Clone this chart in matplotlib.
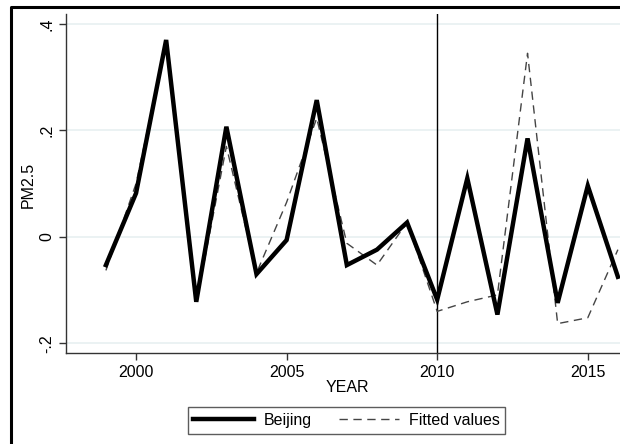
import matplotlib.pyplot as plt
from matplotlib.lines import Line2D

plt.rcParams['font.family'] = ['Liberation Sans', 'DejaVu Sans']

years = list(range(1999, 2017))
beijing = [-0.053, 0.082, 0.370, -0.122, 0.207, -0.070, -0.006, 0.257, -0.053,
           -0.024, 0.027, -0.118, 0.110, -0.146, 0.185, -0.124, 0.096, -0.075]
fitted = [-0.063, 0.100, 0.365, -0.125, 0.170, -0.068, 0.065, 0.223, -0.012,
          -0.053, 0.027, -0.140, -0.122, -0.109, 0.345, -0.163, -0.152, -0.024]
yticks = [-0.2, 0, 0.2, 0.4]
ylabels = ['-.2', '0', '.2', '.4']
xticks = [2000, 2005, 2010, 2015]

W, H = 620, 444
fig = plt.figure(figsize=(W / 100, H / 100), dpi=100)
ax = fig.add_axes([66 / W, (H - 353) / H, (W - 66) / W, (353 - 14) / H])

for y in yticks:
    ax.axhline(y, color='#e8f0f1', lw=1.2, zorder=0)
ax.axvline(2010, color='black', lw=1.0, zorder=1)

ax.plot(years, fitted, color='#444444', lw=1.0, dashes=(6, 4), zorder=2)
ax.plot(years, beijing, color='black', lw=3.2, zorder=3, solid_joinstyle='miter')

ax.set_xlim(1997.675, 2016.07)
ax.set_ylim(-0.2182, 0.4188)
ax.set_xticks(xticks)
ax.set_yticks(yticks)
ax.set_yticklabels(ylabels, rotation=90, va='center')
ax.tick_params(labelsize=11.5, length=5, width=1, colors='#333333', labelcolor='black')
for s in ['top', 'right']:
    ax.spines[s].set_visible(False)
for s in ['left', 'bottom']:
    ax.spines[s].set_color('#333333')
    ax.spines[s].set_linewidth(1)
ax.set_facecolor('white')

fig.text(28 / W, 1 - 185 / H, 'PM2.5', rotation=90, ha='center', va='center', fontsize=11.5)
fig.text(347 / W, 1 - 388 / H, 'YEAR', ha='center', va='center', fontsize=11.5)

# outer frame (left and top edges show, rest is cropped)
fig.add_artist(Line2D([11 / W, 11 / W, 1.0], [0, 1 - 7 / H, 1 - 7 / H],
                      transform=fig.transFigure, color='black', lw=2.2))

handles = [Line2D([], [], color='black', lw=3.2),
           Line2D([], [], color='#444444', lw=1.0, dashes=(6, 4))]
leg = fig.legend(handles, ['Beijing', 'Fitted values'], loc='center',
                 bbox_to_anchor=(346.5 / W, 1 - 420.5 / H), ncol=2,
                 fontsize=11.5, frameon=True, fancybox=False, handlelength=3.8,
                 columnspacing=1.7, handletextpad=0.6, borderpad=0.35)
leg.get_frame().set_edgecolor('#333333')
leg.get_frame().set_linewidth(1.0)

fig.savefig('out.png', dpi=100)
